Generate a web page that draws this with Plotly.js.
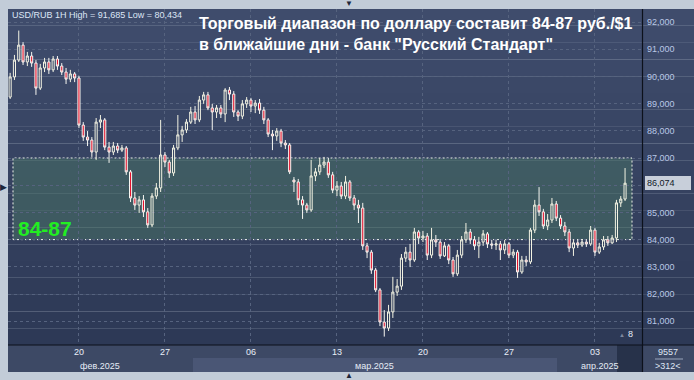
<!DOCTYPE html>
<html>
<head>
<meta charset="utf-8">
<script src="https://cdn.plot.ly/plotly-3.0.1.min.js"></script>
<style>
html,body{margin:0;padding:0;background:#c2ccd8;}
#chart{width:694px;height:380px;}
</style>
</head>
<body>
<div id="chart"></div>
<script>
// ---- DATA ----
const tradingDays = ['2025-02-14','2025-02-17','2025-02-18','2025-02-19','2025-02-20','2025-02-21',
  '2025-02-24','2025-02-25','2025-02-26','2025-02-27','2025-02-28',
  '2025-03-03','2025-03-04','2025-03-05','2025-03-06','2025-03-07',
  '2025-03-10','2025-03-11','2025-03-12','2025-03-13','2025-03-14',
  '2025-03-17','2025-03-18','2025-03-19','2025-03-20','2025-03-21',
  '2025-03-24','2025-03-25','2025-03-26','2025-03-27','2025-03-28',
  '2025-03-31','2025-04-01','2025-04-02','2025-04-03','2025-04-04'];
const sessionHours = ['07:00','11:00','15:00','19:00'];

const openP = [89.24,89.98,90.60,91.15,90.53,90.75,90.49,89.57,90.31,90.53,
  90.24,90.64,90.38,90.16,89.90,90.09,89.94,88.21,87.77,87.66,
  87.22,88.32,88.40,87.40,87.22,87.44,87.29,87.37,86.49,85.53,
  85.27,85.46,85.02,84.54,85.60,85.90,87.11,86.85,86.45,87.37,
  87.85,88.03,88.32,88.69,88.40,89.13,89.32,88.84,88.69,88.84,
  88.62,89.50,89.35,88.69,88.54,88.99,89.13,88.91,89.02,88.76,
  88.40,87.88,87.81,87.99,87.55,87.48,86.19,86.12,85.46,85.27,
  85.09,86.34,86.49,86.74,86.85,86.38,85.82,85.97,85.60,86.12,
  85.53,85.27,85.16,83.77,83.54,82.88,82.15,80.97,80.75,81.34,
  82.07,82.29,83.32,83.54,83.25,84.28,84.06,84.13,83.43,83.99,
  83.91,83.40,83.77,83.25,82.74,83.43,83.99,84.28,83.99,83.77,
  83.91,84.21,83.84,83.80,83.84,83.62,83.84,83.43,83.54,82.81,
  83.25,83.18,84.35,85.27,85.02,84.50,84.72,85.31,84.79,84.50,
  84.28,83.69,83.88,83.80,83.91,83.84,84.35,83.54,83.73,83.99,
  83.88,84.06,85.35,85.49];
const highP = [90.13,90.79,91.685,91.26,90.90,90.90,90.60,90.46,90.68,90.68,
  90.75,90.75,90.49,90.31,90.24,90.16,90.02,88.32,87.99,87.77,
  88.47,88.58,88.47,87.59,87.59,87.55,87.48,87.44,86.56,85.75,
  85.60,85.64,85.16,85.71,86.08,88.40,87.22,86.93,87.48,88.58,
  88.18,88.43,88.88,88.91,89.28,89.43,89.43,88.99,88.95,88.95,
  89.57,89.61,89.46,88.76,89.13,89.24,89.21,89.13,89.17,88.88,
  88.47,88.03,88.10,88.07,87.66,87.55,86.30,86.23,85.60,85.35,
  86.93,86.63,87.00,87.04,87.00,86.49,86.15,86.12,86.34,86.19,
  85.64,85.46,85.35,83.88,83.62,82.96,82.22,81.41,81.60,82.63,
  82.55,83.47,83.73,83.84,84.43,84.35,84.32,84.24,84.43,84.17,
  84.02,83.91,83.84,83.36,83.62,84.13,84.61,84.39,84.13,84.10,
  84.35,84.28,83.99,83.99,83.95,83.99,83.91,83.65,83.62,83.40,
  83.40,84.43,85.46,85.93,85.13,84.94,85.53,85.42,84.90,84.65,
  84.39,84.02,84.02,84.02,84.02,84.50,84.43,83.88,84.13,84.13,
  84.17,85.46,85.60,86.63];
const lowP = [89.17,89.87,90.53,90.42,90.38,90.35,89.32,89.50,90.16,90.09,
  90.16,90.24,90.05,89.72,89.79,89.79,88.10,87.63,87.44,87.04,
  86.93,88.10,87.29,86.82,87.11,87.18,87.22,86.38,85.38,85.09,
  84.98,84.83,84.43,84.46,85.49,85.75,86.67,86.27,86.34,87.29,
  87.59,87.92,88.25,88.25,88.32,88.99,88.76,88.03,88.47,88.47,
  88.32,89.13,88.51,88.36,88.43,88.84,88.69,88.65,88.62,88.25,
  87.77,87.29,87.63,87.40,87.33,86.41,85.75,85.27,84.76,84.98,
  85.02,86.15,86.38,86.63,86.27,85.71,85.60,85.49,85.49,85.42,
  85.09,84.61,83.62,83.32,82.74,82.07,80.82,80.434,80.64,81.12,
  81.93,82.15,83.18,82.99,83.18,83.84,83.91,83.25,83.32,83.73,
  83.29,83.36,83.10,82.63,82.66,83.32,83.88,83.84,83.62,83.32,
  83.77,83.69,83.65,83.62,83.25,83.47,83.32,83.32,82.59,82.74,
  83.03,83.10,84.24,84.87,84.39,84.35,84.61,84.68,84.39,84.13,
  83.54,83.40,83.69,83.73,83.73,83.77,83.40,83.47,83.62,83.77,
  83.84,83.91,85.20,85.42];
const closeP = [89.98,90.60,91.15,90.53,90.75,90.49,89.57,90.31,90.53,90.24,
  90.64,90.38,90.16,89.90,90.09,89.94,88.21,87.77,87.66,87.22,
  88.32,88.40,87.40,87.22,87.44,87.29,87.37,86.49,85.53,85.27,
  85.46,85.02,84.54,85.60,85.90,87.11,86.85,86.45,87.37,87.85,
  88.03,88.32,88.69,88.40,89.13,89.32,88.84,88.69,88.84,88.62,
  89.50,89.35,88.69,88.54,88.99,89.13,88.91,89.02,88.76,88.40,
  87.88,87.81,87.99,87.55,87.48,86.49,86.12,85.46,85.27,85.09,
  86.34,86.49,86.74,86.85,86.38,85.82,85.97,85.60,86.12,85.53,
  85.27,85.16,83.77,83.54,82.88,82.15,80.97,80.75,81.34,82.07,
  82.29,83.32,83.54,83.25,84.28,84.06,84.13,83.43,83.99,83.91,
  83.40,83.77,83.25,82.74,83.43,83.99,84.28,83.99,83.77,83.91,
  84.21,83.84,83.80,83.84,83.62,83.84,83.43,83.54,82.81,83.25,
  83.18,84.35,85.27,85.02,84.50,84.72,85.31,84.79,84.50,84.28,
  83.69,83.88,83.80,83.91,83.84,84.35,83.54,83.73,83.99,83.88,
  84.06,85.35,85.49,86.074];

const priceTicks = [81, 82, 83, 84, 85, 86, 87, 88, 89, 90, 91, 92];
const tickDays = ['2025-02-20','2025-02-27','2025-03-06','2025-03-13','2025-03-20','2025-03-27','2025-04-03'];
const monthLabels = ['фев.2025','мар.2025','апр.2025'];
const rangeLow = 84, rangeHigh = 87;
const rangeLabel = '84-87';
const symbolLabel = 'USD/RUB 1H';
const titleLines = ['Торговый диапазон по доллару составит 84-87 руб./$1',
                    'в ближайшие дни - банк "Русский Стандарт"'];
const footerTop = '9557', footerBottom = '>312<', countLabel = '8';

// ---- BUILD ----
(function () {
const xCats = [];
tradingDays.forEach(d => sessionHours.forEach(h => xCats.push(d + ' ' + h)));
const tickVals = tickDays.map(d => d + ' ' + sessionHours[0]);
const tickText = tickDays.map(d => d.slice(8));
const fmt = v => v.toFixed(3).replace('.', ',');
const lastClose = closeP[closeP.length - 1];
// the last-price badge covers the nearest price label, as in the terminal
const priceText = priceTicks.map(v => Math.abs(v - lastClose) < 0.4 ? '' : fmt(v));

const W = 694, H = 380, ML = 8, MR = 51, MT = 9, MB = 35;
const pw = W - ML - MR, ph = H - MT - MB;
const px = p => (p - ML) / pw;
const py = p => (H - MB - p) / ph;

const FONT = 'Arial, "Liberation Sans", sans-serif';
const shapes = [];
const N = 20, cTop = [63, 76, 108], cBot = [45, 57, 86];
for (let k = 0; k < N; k++) {
  const t = k / (N - 1);
  const c = cTop.map((v, j) => Math.round(v + (cBot[j] - v) * t));
  shapes.push({type:'rect', xref:'paper', yref:'paper', layer:'below',
    x0: px(ML), x1: px(W), y0: py(MT + ph * k / N), y1: py(MT + ph * (k + 1) / N) - 0.0001,
    fillcolor: 'rgb(' + c.join(',') + ')', line: {width: 0}});
}
shapes.push({type:'rect', xref:'paper', yref:'paper', layer:'below', x0:px(ML), x1:px(W), y0:py(372), y1:py(345), fillcolor:'#3d4965', line:{width:0}});
shapes.push({type:'rect', xref:'paper', yref:'paper', layer:'below', x0:px(193), x1:px(557), y0:py(372), y1:py(358), fillcolor:'#4a5675', line:{width:0}});
shapes.push({type:'rect', xref:'paper', yref:'paper', layer:'below', x0:px(617), x1:px(642), y0:py(372), y1:py(345), fillcolor:'#27324a', line:{width:0}});
shapes.push({type:'rect', xref:'paper', yref:'y', layer:'below', x0:px(13), x1:px(632), y0:rangeLow, y1:rangeHigh,
  fillcolor:'rgba(72,116,100,0.5)', line:{color:'#eef2ea', width:1, dash:'2px,2px'}});
shapes.push({type:'line', xref:'paper', yref:'paper', layer:'above', x0:px(ML), x1:px(W), y0:py(345), y1:py(345), line:{color:'#0c111b', width:1.2}});
shapes.push({type:'line', xref:'paper', yref:'paper', layer:'above', x0:px(642.5), x1:px(642.5), y0:py(MT), y1:py(372), line:{color:'#0c111b', width:1.2}});
shapes.push({type:'line', xref:'paper', yref:'paper', layer:'above', x0:px(655), x1:px(683), y0:py(359), y1:py(359), line:{color:'#9aa6bd', width:1}});

const ann = (x, y, text, opts) => Object.assign({xref:'paper', yref:'paper', x:px(x), y:py(y), text:text,
  showarrow:false, xanchor:'center', yanchor:'middle', font:{family:FONT, size:9, color:'#e6ecf6'}}, opts || {});

const annotations = [
  ann(10, 15, symbolLabel + ' High = ' + fmt(Math.max(...highP)) + ' Low = ' + fmt(Math.min(...lowP)),
      {xanchor:'left', font:{family:FONT, size:9, color:'#dde6f6'}}),
  ann(197, 24, titleLines[0], {xanchor:'left', font:{family:FONT, size:16, color:'#ffffff', weight:'bold'}}),
  ann(197, 45, titleLines[1], {xanchor:'left', font:{family:FONT, size:16, color:'#ffffff', weight:'bold'}}),
  {xref:'paper', yref:'y', x:px(16), y:84.39, text:rangeLabel, showarrow:false, xanchor:'left', yanchor:'middle',
   font:{family:FONT, size:21, color:'#22ee22', weight:'bold'}},
  {xref:'paper', yref:'y', x:px(645), y:lastClose, text:fmt(lastClose),
   showarrow:false, xanchor:'left', yanchor:'middle', bgcolor:'#c8cfda', bordercolor:'#c8cfda', borderpad:1,
   width:42, align:'left', font:{family:FONT, size:9, color:'#111827'}},
  ann(100, 366, monthLabels[0]),
  ann(375, 366, monthLabels[1]),
  ann(599, 366, monthLabels[2]),
  ann(630, 334, countLabel),
  ann(622, 335, '▲', {font:{family:FONT, size:6, color:'#7d889e'}}),
  ann(668, 352, footerTop, {font:{family:FONT, size:9, color:'#dfe6f4'}}),
  ann(668, 366, footerBottom, {font:{family:FONT, size:9, color:'#dfe6f4'}}),
  ann(3, 187, '▶', {font:{family:FONT, size:9, color:'#1d2639'}}),
  ann(349, 3, '▼', {font:{family:FONT, size:8, color:'#1d2639'}}),
  ann(349, 376, '▲', {font:{family:FONT, size:8, color:'#1d2639'}})
];

const trace = {
  type:'candlestick', x:xCats, open:openP, high:highP, low:lowP, close:closeP,
  increasing:{line:{color:'#f3f3e3', width:1}, fillcolor:'rgba(0,0,0,0)'},
  decreasing:{line:{color:'#f7f7f2', width:1}, fillcolor:'#e3122d'},
  whiskerwidth:0, hoverinfo:'skip', showlegend:false
};

const yTop = 92 + 13 / 27.2, yBot = 92 - 323 / 27.2;
const layout = {
  width:W, height:H, margin:{l:ML, r:MR, t:MT, b:MB, pad:0},
  paper_bgcolor:'#c2ccd8', plot_bgcolor:'rgba(0,0,0,0)',
  separators:', ', showlegend:false,
  font:{family:FONT, size:9, color:'#e6ecf6'},
  xaxis:{type:'category', range:[-0.5, -0.5 + pw / 4.3], tickmode:'array', tickvals:tickVals, ticktext:tickText,
    showgrid:true, gridcolor:'#56637f', griddash:'3px,3px', gridwidth:1, ticks:'', showline:false, zeroline:false,
    tickfont:{family:FONT, size:9, color:'#e8eef8'}, rangeslider:{visible:false}, fixedrange:true},
  yaxis:{side:'right', range:[yBot, yTop], tickmode:'array', tickvals:priceTicks, ticktext:priceText,
    showgrid:true, gridcolor:'#56637f', griddash:'3px,3px', gridwidth:1, ticks:'', showline:false, zeroline:false,
    ticklabelstandoff:3, tickfont:{family:FONT, size:9, color:'#b9c8e6'}, fixedrange:true},
  shapes:shapes, annotations:annotations
};

Plotly.newPlot('chart', [trace], layout, {staticPlot:true, displayModeBar:false});
})();
</script>
</body>
</html>
